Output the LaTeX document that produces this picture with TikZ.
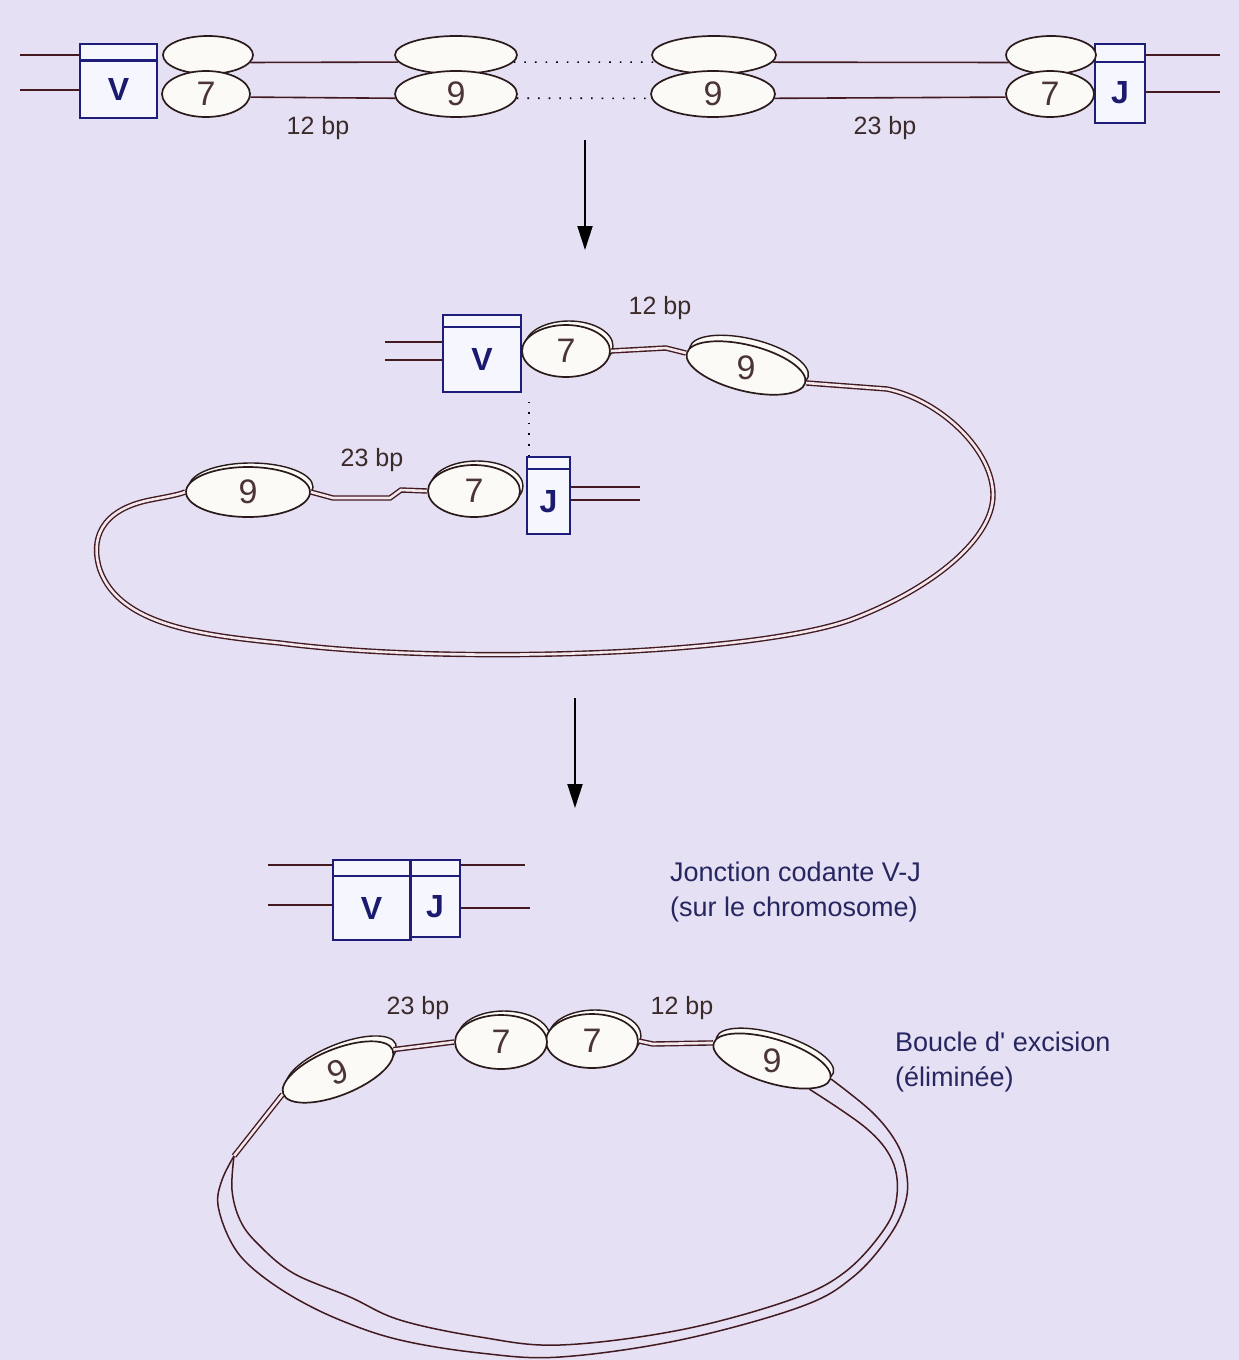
\documentclass[tikz,border=0pt]{standalone}
\usepackage{fontspec}
\setmainfont{Liberation Sans}[Ligatures=TeXOff]
\usetikzlibrary{shapes.geometric,arrows.meta}
\definecolor{bg}{HTML}{E5E0F4}
\definecolor{dna}{HTML}{421A20}
\definecolor{dnain}{HTML}{F3E8EE}
\definecolor{sigline}{HTML}{2A1A1A}
\definecolor{sigfill}{HTML}{FCFAF6}
\definecolor{sigtext}{HTML}{4A3434}
\definecolor{genebox}{HTML}{1E1E7A}
\definecolor{genefill}{HTML}{F6F6FF}
\definecolor{geneletter}{HTML}{1A1A6E}
\definecolor{lbltext}{HTML}{3A2A2A}
\definecolor{notetext}{HTML}{262660}
\begin{document}
\begin{tikzpicture}[x=1pt,y=-1pt,
  strand/.style={draw=dna, line width=1.6pt},
  dstrand/.style={draw=dna, line width=1.4pt, double=dnain, double distance=2.6pt},
  dots/.style={draw=black, line width=1.6pt, dash pattern=on 1.6pt off 9pt},
  sig/.style={ellipse, draw=sigline, fill=sigfill, line width=1.7pt, inner sep=0pt,
    font=\fontsize{34}{34}\selectfont, text=sigtext},
  sigback/.style={ellipse, draw=sigline, fill=sigfill, line width=1.4pt, inner sep=0pt},
  digit/.style={font=\fontsize{34}{34}\selectfont, text=sigtext, inner sep=0pt},
  gene/.style={rectangle, draw=genebox, fill=genefill, line width=1.6pt, inner sep=0pt,
    font=\bfseries\fontsize{32}{32}\selectfont, text=geneletter},
  band/.style={rectangle, draw=genebox, fill=genefill, line width=1.6pt, inner sep=0pt},
  lbl/.style={font=\fontsize{25}{25}\selectfont, text=lbltext, inner sep=0pt},
  note/.style={font=\fontsize{27}{35}\selectfont, text=notetext, align=left, inner sep=0pt},
  stagearrow/.style={draw=black, line width=2pt, -{Triangle[length=24pt,width=15pt]}}
]
\useasboundingbox (0,0) rectangle (1239,1360);
\fill[bg] (0,0) rectangle (1239,1360);

% ---------- germline configuration ----------
\node[band, minimum width=77pt, minimum height=16pt] (tVb) at (118.5,52) {};
\node[gene, minimum width=77pt, minimum height=58pt] (tV) at (118.5,89) {V};
\draw[genebox, line width=3pt] (tVb.south west) -- (tVb.south east);
\node[band, minimum width=50pt, minimum height=18pt] (tJb) at (1120,53) {};
\node[gene, minimum width=50pt, minimum height=61pt] (tJ) at (1120,92.5) {J};

\coordinate (tl1) at (20,55);
\coordinate (tl2) at (20,90);
\coordinate (tr1) at (1220,55);
\coordinate (tr2) at (1220,92);
\draw[strand] (tl1) -- (tl1 -| tVb.west);
\draw[strand] (tl2) -- (tl2 -| tV.west);
\draw[strand] (tr1 -| tJb.east) -- (tr1);
\draw[strand] (tr2 -| tJ.east) -- (tr2);

\node[sig, minimum width=90pt, minimum height=38pt] (t7u) at (208,55) {};
\node[sig, minimum width=88pt, minimum height=46pt] (t7l) at (206,94) {7};
\node[sig, minimum width=122pt, minimum height=38pt] (t9u) at (456,55) {};
\node[sig, minimum width=122pt, minimum height=46pt] (t9l) at (456,94) {9};
\node[sig, minimum width=124pt, minimum height=38pt] (r9u) at (714,55) {};
\node[sig, minimum width=124pt, minimum height=46pt] (r9l) at (713,94) {9};
\node[sig, minimum width=90pt, minimum height=38pt] (r7u) at (1051,55) {};
\node[sig, minimum width=88pt, minimum height=46pt] (r7l) at (1050,94) {7};

\draw[strand] (t7u.-10) -- (t9u.187);
\draw[strand] (t7l.-4) -- (t9l.184);
\draw[dots] (t9u.-7) -- (r9u.187);
\draw[dots] (t9l.-4) -- (r9l.184);
\draw[strand] (r9u.-7) -- (r7u.190);
\draw[strand] (r9l.-4) -- (r7l.184);

\node[lbl] (bp12a) at (318,128) {12 bp};
\node[lbl] (bp23a) at (885,128) {23 bp};

\coordinate (a1s) at (585,140);
\coordinate (a1e) at (585,250);
\draw[stagearrow] (a1s) -- (a1e);

% ---------- synapsis: V and J brought together ----------
\node[band, minimum width=78pt, minimum height=12pt] (mVb) at (482,321) {};
\node[gene, minimum width=78pt, minimum height=65pt] (mV) at (482,359.5) {V};
\coordinate (ml1) at (385,342);
\coordinate (ml2) at (385,360);
\draw[strand] (ml1) -- (ml1 -| mV.west);
\draw[strand] (ml2) -- (ml2 -| mV.west);

\node[sigback, minimum width=88pt, minimum height=50pt] (m7k) at (569,346) {};
\node[sig, minimum width=88pt, minimum height=52pt] (m7) at (566,351) {7};
\node[sigback, rotate=-14, minimum width=122pt, minimum height=46pt] (m9k) at (749,362) {};
\node[sig, rotate=-14, minimum width=122pt, minimum height=46pt] (m9) at (746,368) {};
\node[digit] (m9d) at (m9.center) {9};
\node[lbl] (bp12m) at (660,308) {12 bp};

\node[sigback, minimum width=124pt, minimum height=48pt] (l9k) at (251,487) {};
\node[sig, minimum width=124pt, minimum height=50pt] (l9) at (248,492) {9};
\node[sigback, minimum width=92pt, minimum height=50pt] (l7k) at (477,486) {};
\node[sig, minimum width=92pt, minimum height=52pt] (l7) at (474,491) {7};
\node[lbl] (bp23m) at (372,460) {23 bp};

\node[band, minimum width=43pt, minimum height=12pt] (mJb) at (548.5,463) {};
\node[gene, minimum width=43pt, minimum height=65pt] (mJ) at (548.5,501.5) {J};
\coordinate (mr1) at (640,487);
\coordinate (mr2) at (640,500);
\draw[strand] (mr1 -| mJ.east) -- (mr1);
\draw[strand] (mr2 -| mJ.east) -- (mr2);

\draw[dots] ([xshift=3pt]mJb.north west) -- ([xshift=3pt]mJb.north west |- mV.south);

\draw[dstrand] (m7.east) -- ++(55,-3) -- (m9.west);
\draw[dstrand] (m9.east) -- (887,389)
  .. controls (940,400) and (993,450) .. (993,495)
  .. controls (993,540) and (930,590) .. (850,620)
  .. controls (750,655) and (450,665) .. (280,643)
  .. controls (200,635) and (120,625) .. (100,570)
  .. controls (90,540) and (100,510) .. (150,500)
  .. controls (165,497) and (178,495) .. (l9.west);
\draw[dstrand] (l9.east) -- (333,498) -- (390,498) -- (401,490) -- (l7.west);

\coordinate (a2s) at (575,698);
\coordinate (a2e) at (575,808);
\draw[stagearrow] (a2s) -- (a2e);

% ---------- coding joint ----------
\node[band, minimum width=50pt, minimum height=16pt] (bJb) at (435,868) {};
\node[gene, minimum width=50pt, minimum height=61pt] (bJ) at (435,906.5) {J};
\node[band, minimum width=77pt, minimum height=16pt] (bVb) at (371.5,868) {};
\node[gene, minimum width=77pt, minimum height=64pt] (bV) at (371.5,908) {V};
\draw[genebox, line width=3pt] (bVb.north east) -- (bV.south east);
\coordinate (bl1) at (268,865);
\coordinate (bl2) at (268,905);
\coordinate (br1) at (525,865);
\coordinate (br2) at (530,908);
\draw[strand] (bl1) -- (bl1 -| bVb.west);
\draw[strand] (bl2) -- (bl2 -| bV.west);
\draw[strand] (br1 -| bJb.east) -- (br1);
\draw[strand] (br2 -| bJ.east) -- (br2);
\node[note, anchor=north west] (vjnote) at (670,862) {Jonction codante V-J\\(sur le chromosome)};

% ---------- excision circle ----------
\node[sigback, rotate=22, minimum width=118pt, minimum height=44pt] (lb9k) at (341,1066) {};
\node[sig, rotate=22, minimum width=118pt, minimum height=46pt] (lb9) at (338,1072) {9};
\node[sigback, minimum width=92pt, minimum height=52pt] (b7bk) at (595,1036) {};
\node[sigback, minimum width=92pt, minimum height=52pt] (b7ak) at (504,1037) {};
\node[sig, minimum width=92pt, minimum height=54pt] (b7b) at (592,1041) {7};
\node[sig, minimum width=92pt, minimum height=54pt] (b7a) at (501,1042) {7};
\node[sigback, rotate=-17, minimum width=122pt, minimum height=42pt] (rb9k) at (775,1055) {};
\node[sig, rotate=-17, minimum width=122pt, minimum height=44pt] (rb9) at (772,1061) {};
\node[digit] (rb9d) at (rb9.center) {9};
\node[lbl] (bp23b) at (418,1008) {23 bp};
\node[lbl] (bp12b) at (682,1008) {12 bp};

\draw[dstrand] (lb9.east) -- (b7a.west);
\draw[dstrand] (b7b.east) -- ++(14,3) -- (rb9.west);

\coordinate (lsplit) at (234,1156);
\draw[dstrand] (lb9.west) -- (lsplit);
\draw[strand, line width=1.5pt] plot[smooth, tension=0.6] coordinates {
  (lsplit) (222,1180) (218,1205) (230,1240) (250,1266) (290,1295) (340,1320)
  (400,1340) (480,1353) (560,1357) (680,1340) (800,1307) (853,1277)
  (890,1235) (906,1200) (906,1170) (896,1142) (872,1112) (rb9.east)};
\draw[strand, line width=1.5pt] plot[smooth, tension=0.6] coordinates {
  (lsplit) (232,1190) (240,1220) (257,1243) (293,1273) (350,1297)
  (400,1320) (480,1337) (560,1345) (680,1330) (790,1300) (845,1272)
  (885,1228) (897,1195) (892,1160) (866,1128) (rb9.-20)};

\node[note, anchor=north west] (exnote) at (895,1032) {Boucle d' excision\\(éliminée)};
\end{tikzpicture}
\end{document}
